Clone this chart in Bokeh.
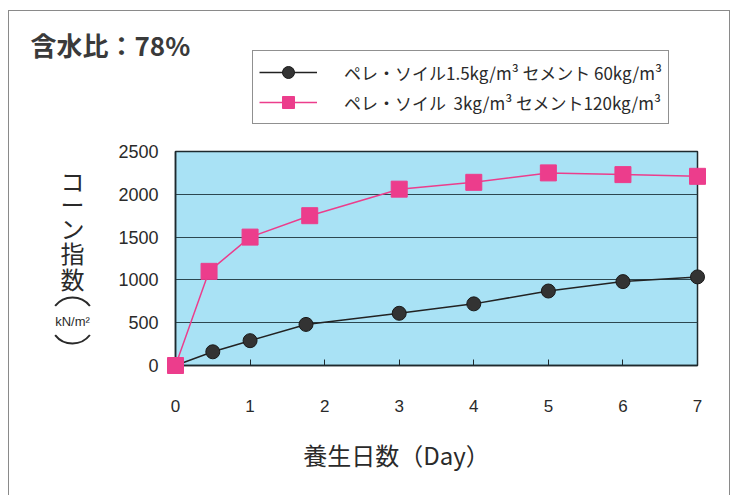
from bokeh.plotting import figure
from bokeh.layouts import column
from bokeh.models import Legend, LegendItem, FixedTicker, Range1d
from bokeh.core.properties import value
from bokeh.embed import file_html
from bokeh.resources import INLINE

# ---- data ----
days_a = [0, 0.5, 1, 1.75, 3, 4, 5, 6, 7]
cone_a = [0, 160, 290, 480, 610, 720, 870, 980, 1035]
days_b = [0, 0.45, 1, 1.8, 3, 4, 5, 6, 7]
cone_b = [0, 1100, 1500, 1750, 2060, 2140, 2250, 2230, 2210]
x_ticks = [0, 1, 2, 3, 4, 5, 6, 7]
y_ticks = [0, 500, 1000, 1500, 2000, 2500]
label_a = "ペレ・ソイル1.5kg/m³ セメント 60kg/m³"
label_b = "ペレ・ソイル  3kg/m³ セメント120kg/m³"
title_text = "含水比：78%"
x_title = "養生日数（Day）"
y_title_chars = ["コ", "ー", "ン", "指", "数"]
y_unit = "kN/m²"

JP = "Noto Sans CJK JP"
NUM = "Liberation Sans"
BLACK_LINE = "#222222"
BLACK_FILL = "#333333"
PINK = "#ec3d8c"
TEXT = "#2a2a2a"

# page geometry (pixels)
PX, PY = 9, 11            # content origin inside the bordered column
TOP_H = 128
W = 720
MAIN_H = 356
FL, FR, FT, FB = 175, 697, 151, 365   # frame edges in page pixels
X0, X1 = 0, 7
Y0, Y1 = 0, 2500


def dx(px):
    return X0 + (px - FL) / (FR - FL) * (X1 - X0)


def dy(py):
    return Y0 + (FB - py) / (FB - FT) * (Y1 - Y0)


def series(fig, level="glyph"):
    la = fig.line(days_a, cone_a, line_color=BLACK_LINE, line_width=1.5)
    sa = fig.scatter(days_a, cone_a, marker="circle", size=14,
                     fill_color=BLACK_FILL, line_color="#1a1a1a")
    lb = fig.line(days_b, cone_b, line_color=PINK, line_width=1.5)
    sb = fig.scatter(days_b, cone_b, marker="square", size=16,
                     fill_color=PINK, line_color=PINK)
    sa.level = level
    sb.level = level
    return la, sa, lb, sb


# ---------------- header figure: title + legend ----------------
top = figure(width=W, height=TOP_H, output_backend="svg", toolbar_location=None,
             x_range=Range1d(FL, FR), y_range=Range1d(PY + TOP_H, PY),
             x_axis_location=None, y_axis_location=None,
             min_border=0)
top.outline_line_color = None
top.background_fill_color = "white"
top.border_fill_color = "white"
top.grid.visible = False

t = top.text(x=[30], y=[44], text=[title_text], text_font=value(JP),
             text_font_size="26px", text_font_style="bold", text_color="#3a3a3a",
             text_align="left", text_baseline="middle")
t.level = "overlay"

# legend proxies: same series, lying outside this header's frame (clipped away)
pla, psa, plb, psb = series(top)

legend = Legend(items=[LegendItem(label=label_a, renderers=[pla, psa]),
                       LegendItem(label=label_b, renderers=[plb, psb])],
                location=(252 - FL, PY + TOP_H - 124), orientation="vertical",
                padding=6, spacing=-4, margin=0,
                glyph_width=58, glyph_height=30, label_standoff=27,
                label_text_font=JP, label_text_font_size="17px",
                label_text_color=TEXT,
                border_line_color="#222222", border_line_width=1,
                background_fill_color="white", background_fill_alpha=1)
top.add_layout(legend, "center")

# ---------------- main chart ----------------
main_top = PY + TOP_H
p = figure(width=W, height=MAIN_H, output_backend="svg", toolbar_location=None,
           x_range=Range1d(X0, X1), y_range=Range1d(Y0, Y1),
           min_border_left=FL - PX, min_border_right=W - (FR - PX),
           min_border_top=FT - main_top, min_border_bottom=MAIN_H - (FB - main_top))
p.background_fill_color = "#a9e2f5"
p.border_fill_color = "white"
p.outline_line_color = "#1e2a2e"
p.outline_line_width = 1.5

p.xgrid.visible = False
p.ygrid.ticker = FixedTicker(ticks=y_ticks)
p.ygrid.grid_line_color = "#2c4750"
p.ygrid.grid_line_width = 1

p.xaxis.ticker = FixedTicker(ticks=x_ticks)
p.xaxis.major_tick_in = 6
p.xaxis.major_tick_out = 0
p.xaxis.minor_tick_line_color = None
p.xaxis.major_tick_line_color = "#1e2a2e"
p.xaxis.axis_line_color = "#1e2a2e"
p.xaxis.axis_line_width = 1.5
p.xaxis.major_label_standoff = 34
p.xaxis.major_label_text_font = NUM
p.xaxis.major_label_text_font_size = "17px"
p.xaxis.major_label_text_color = TEXT

p.yaxis.ticker = FixedTicker(ticks=y_ticks)
p.yaxis.major_tick_line_color = None
p.yaxis.minor_tick_line_color = None
p.yaxis.major_tick_out = 0
p.yaxis.axis_line_color = "#1e2a2e"
p.yaxis.axis_line_width = 1.5
p.yaxis.major_label_standoff = 17
p.yaxis.major_label_text_font = NUM
p.yaxis.major_label_text_font_size = "18px"
p.yaxis.major_label_text_color = TEXT

series(p, level="overlay")


def add_text(px, py, txt, font, size):
    r = p.text(x=[dx(px)], y=[dy(py)], text=[txt],
               text_font=value(font), text_font_size=size,
               text_color=TEXT, text_align="center", text_baseline="middle")
    r.level = "overlay"
    return r


add_text(396, 454, x_title, JP, "24px")
for ch, yy in zip(y_title_chars, [180, 203, 227, 252, 278]):
    add_text(72, yy, ch, JP, "24px")
add_text(72, 321, y_unit, NUM, "13px")

# the bracket arcs around the unit
arc_top = p.arc(x=[dx(72)], y=[dy(319)], radius=22, radius_units="screen",
                start_angle=0.66, end_angle=2.48, direction="anticlock",
                line_color=TEXT, line_width=2)
arc_bot = p.arc(x=[dx(72)], y=[dy(321)], radius=22, radius_units="screen",
                start_angle=-2.48, end_angle=-0.66, direction="anticlock",
                line_color=TEXT, line_width=2)
arc_top.level = "overlay"
arc_bot.level = "overlay"

layout = column(top, p, spacing=0)
layout.styles = {"border-top": "1px solid #8a8a8a", "border-left": "1px solid #8a8a8a",
                 "border-right": "1px solid #8a8a8a",
                 "margin-left": "8px", "margin-top": "10px"}

open("out.html", "w").write(file_html(layout, INLINE))
